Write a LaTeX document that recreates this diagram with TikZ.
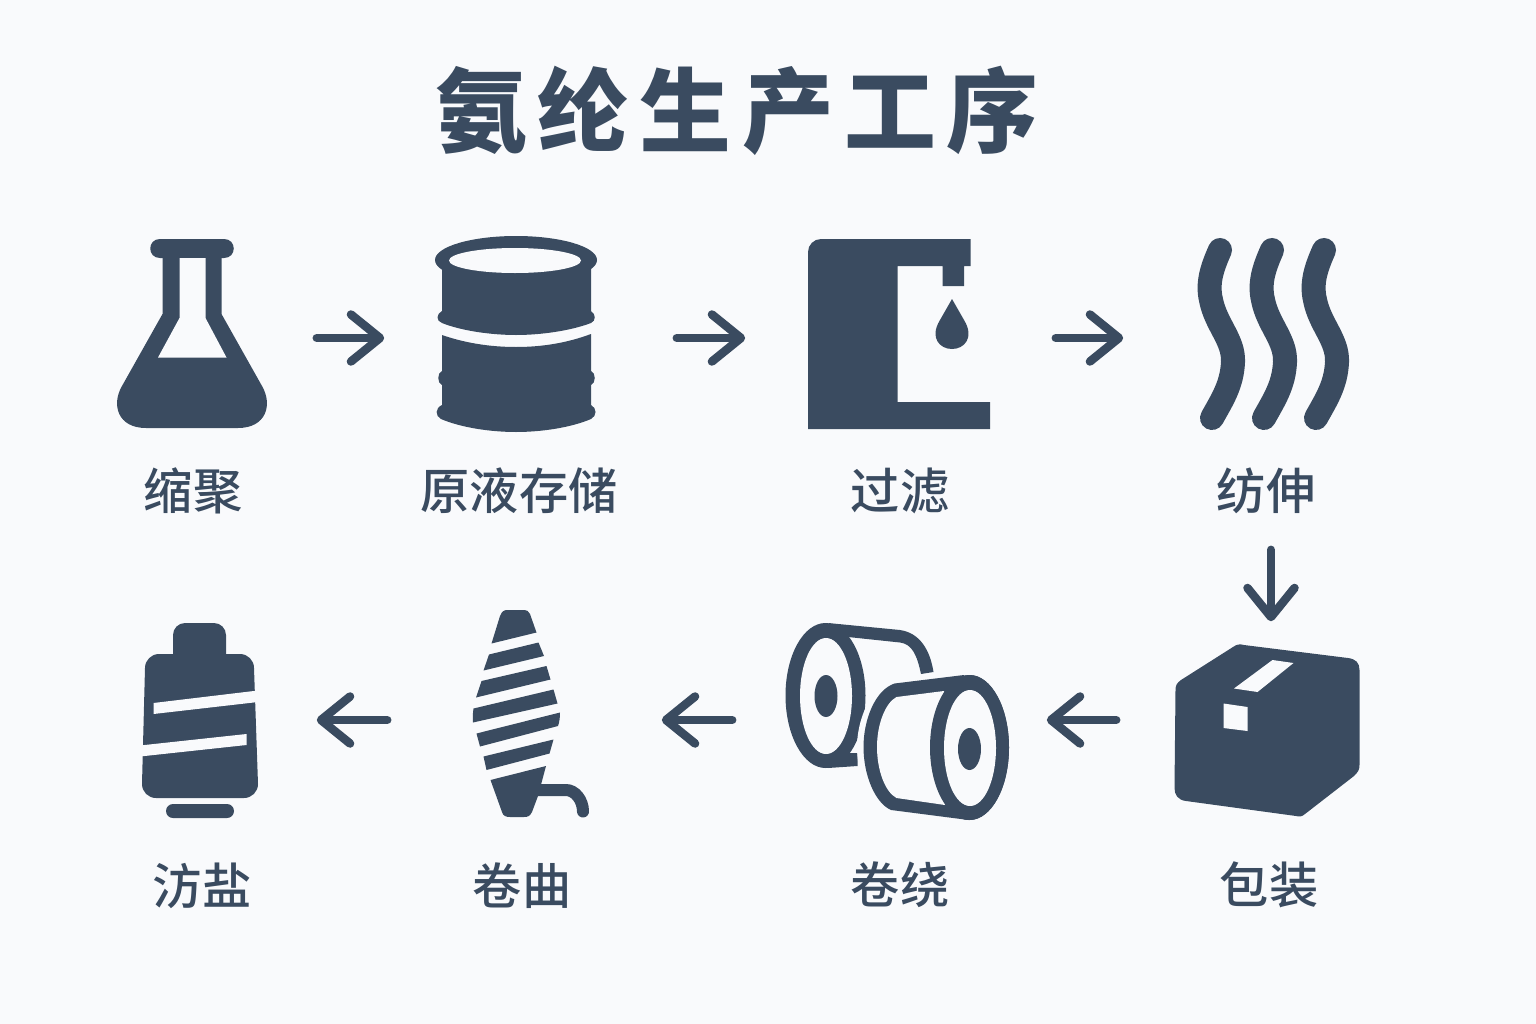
\documentclass[tikz,border=0pt]{standalone}
\usepackage{fontspec}
\usepackage{tikz}
\usetikzlibrary{arrows.meta}
\newfontfamily\cjk{Noto Sans CJK SC}
\newfontfamily\cjklabel{Noto Sans CJK SC Medium}
\definecolor{slate}{HTML}{3A4B60}
\definecolor{paper}{HTML}{F9FAFC}
\tikzset{
  iconframe/.style={inner sep=0pt,minimum width=#1,minimum height=1.9cm},
  stagelabel/.style={text=slate,font={\cjklabel\fontsize{14pt}{16pt}\selectfont},inner sep=0pt},
  flowarrow/.style={draw=slate,line width=0.085cm,line cap=round,
    -{Straight Barb[length=0.29cm,width=0.47cm,round]}},
  ink/.style={fill=slate,draw=none},
  hole/.style={fill=paper,draw=none},
  wave/.style={draw=slate,line width=0.24cm,line cap=round}
}
\begin{document}
\begin{tikzpicture}[x=0.01cm,y=-0.01cm]
\useasboundingbox (0,0) rectangle (1536,1024);
\fill[paper] (0,0) rectangle (1536,1024);

% title
\node[text=slate,inner sep=0pt,font={\cjk\bfseries\fontsize{26.1pt}{28pt}\selectfont}] (title) at (737,111)
  {氨\hspace{0.105cm}纶\hspace{0.105cm}生\hspace{0.105cm}产\hspace{0.105cm}工\hspace{0.105cm}序};

% frames of the icons
\node[iconframe=1.50cm] (flask) at (192,338) {};
\node[iconframe=1.60cm] (drum) at (516,338) {};
\node[iconframe=1.82cm] (filter) at (899,338) {};
\node[iconframe=1.50cm] (fibre) at (1271,338) {};
\node[iconframe=1.88cm] (carton) at (1271,720) {};
\node[iconframe=2.24cm] (rolls) at (897,720) {};
\node[iconframe=0.88cm] (bobbin) at (516,720) {};
\node[iconframe=1.16cm] (cone) at (200,720) {};

% flask
\fill[ink] (162.5,250) -- (162.5,314) -- (122,386) .. controls (111,405) and (118,428) .. (146,428)
  -- (238,428) .. controls (266,428) and (273,405) .. (262,386) -- (221.5,314) -- (221.5,250) -- cycle;
\fill[ink] (160,239) -- (224,239) .. controls (237,239) and (237,258) .. (224,258)
  -- (160,258) .. controls (147,258) and (147,239) .. (160,239) -- cycle;
\fill[hole] (179.5,258) -- (205.5,258) -- (205.5,318) -- (226.5,357.5) -- (158,357.5) -- (179.5,318) -- cycle;

% drum
\fill[ink] (442,260) -- (591,260) -- (591,311) .. controls (596,314) and (596,321) .. (591,323)
  .. controls (570,331) and (540,335) .. (516,335) .. controls (492,335) and (462,331) .. (442,323)
  .. controls (436,321) and (436,314) .. (442,311) -- cycle;
\fill[ink] (442,335) .. controls (465,343) and (490,347) .. (516,347) .. controls (542,347) and (567,343) .. (591,334)
  -- (591,371) .. controls (596,373) and (596,383) .. (591,385) -- (591,405)
  .. controls (597,408) and (597,416) .. (591,419) .. controls (570,428) and (540,432) .. (516,432)
  .. controls (492,432) and (462,428) .. (441,419) .. controls (435,416) and (435,408) .. (442,405)
  -- (442,385) .. controls (437,383) and (437,373) .. (442,371) -- cycle;
\fill[ink] (516,260) ellipse (81 and 24);
\fill[hole] (515,260.5) ellipse (66 and 12.5);

% filter
\fill[ink] (808,252) arc (180:270:13) -- (970.5,239) -- (970.5,266) -- (964,266) -- (964,286) -- (942.5,286)
  -- (942.5,266) -- (897.5,266) -- (897.5,402) -- (990,402) -- (990,429) -- (808,429) -- cycle;
\fill[ink] (952,299) -- (964,320) .. controls (975,338) and (964,349) .. (952,349)
  .. controls (940,349) and (929,338) .. (940,320) -- cycle;

% fibres
\foreach \dx in {0,52,104}{
  \draw[wave,shift={(\dx,0)}] (1220,250) .. controls (1212,268) and (1207,283) .. (1211,300)
    .. controls (1216,325) and (1234,340) .. (1233,362) .. controls (1232,385) and (1222,400) .. (1212,418);
}

% carton
\fill[ink] (1233,647) .. controls (1237,644) and (1240,644) .. (1244,645) -- (1348,658)
  .. controls (1356,659) and (1359.5,663) .. (1359.5,670) -- (1359.5,765) .. controls (1359.5,770) and (1358,772) .. (1354,776)
  -- (1305,814) .. controls (1302,816.5) and (1300,817) .. (1296,816) -- (1186,801)
  .. controls (1178,800) and (1174.5,795) .. (1174.5,788) -- (1175.5,690) .. controls (1175.5,685) and (1177,683) .. (1181,680) -- cycle;
\fill[hole] (1272.5,660) -- (1293.5,663) -- (1257.5,692) -- (1234,688.5) -- cycle;
\fill[hole] (1223.5,703.5) -- (1247.5,707) -- (1247.5,731) -- (1223.5,728) -- cycle;

% rolls, the back one
\fill[ink] (828,623) -- (900,630) .. controls (920,633) and (930,650) .. (933.5,672) -- (921,674)
  .. controls (917,655) and (912,644) .. (900,642.5) -- (848,637) -- cycle;
\fill[ink] (828,768) -- (857.5,766) -- (857.5,753) -- (826,753) -- cycle;
\fill[ink] (825.5,695.5) ellipse (40 and 72.5);
\fill[hole] (826,696) ellipse (26 and 58);
\fill[ink] (826,696) ellipse (11.5 and 21);
% the front one
\fill[hole] (964,670) -- (890,678) .. controls (870,690) and (857,720) .. (857,747)
  .. controls (857,775) and (870,805) .. (885,813) -- (968,826) -- cycle;
\fill[ink] (964,675) -- (894.5,683.5) .. controls (875,690) and (863.5,720) .. (863.5,747)
  .. controls (863.5,775) and (875,803) .. (891,810) -- (968.5,820) -- cycle;
\fill[ink] (969.5,747.5) ellipse (39.5 and 72.5);
\fill[hole] (944,691) -- (896.5,697) .. controls (885,703) and (877,725) .. (877,747)
  .. controls (877,770) and (885,792) .. (896.5,798) -- (945,805) -- (970,748) -- cycle;
\fill[ink] (969.5,747.5) ellipse (39.5 and 72.5);
\fill[hole] (970,748) ellipse (26 and 58);
\fill[ink] (969.5,749) ellipse (11.5 and 21);

% bobbin
\fill[ink] (491.5,643.5) -- (500,616) .. controls (502,611) and (504,610) .. (508,610) -- (522,610)
  .. controls (527,610) and (529,611) .. (530,614) -- (536.5,632.5) -- cycle;
\fill[ink] (483.5,670.5) -- (489,654.5) -- (538.5,642.5) -- (544,656) -- cycle;
\fill[ink] (476,697.5) -- (481.5,681) -- (546.5,666) -- (550.5,679.5) -- cycle;
\fill[ink] (473,722.5) .. controls (472.5,717) and (473,712) .. (473.5,708.5) -- (553.5,689.5) -- (557.5,703.5) -- cycle;
\fill[ink] (480,746.5) -- (476.5,733.5) -- (560,712.5) .. controls (560,717) and (559.5,722) .. (558,726) -- cycle;
\fill[ink] (486.5,770) -- (483.5,756.5) -- (553.5,739.5) -- (549.5,753.5) -- cycle;
\fill[ink] (490.5,780) -- (546,766) -- (538,796) -- (532,812) .. controls (530,816) and (528,817) .. (524,817)
  -- (510,817) .. controls (506,817) and (503,816) .. (502,812) -- cycle;
\draw[slate,line width=0.12cm,line cap=round] (536,790) -- (566,790) .. controls (575,790) and (583,800) .. (583,811.5);

% cone
\fill[ink] (173,654) -- (173,635) arc (180:270:12) -- (214,623) arc (-90:0:12) -- (226,654) -- (240,654)
  arc (-90:0:14) -- (258,784) arc (0:90:14) -- (156,798) arc (90:180:14) -- (145,668) arc (180:270:14) -- cycle;
\fill[hole] (258,690.5) -- (153.5,703) -- (153.5,714) -- (258,702) -- cycle;
\fill[hole] (140,745.5) -- (246.5,734) -- (246.5,745) -- (140,756.5) -- cycle;
\fill[ink] (173,804) -- (227,804) arc (-90:90:7) -- (173,818) arc (90:270:7) -- cycle;

% stages
\node[stagelabel] (flasklabel) at (193,491) {缩聚};
\node[stagelabel] (drumlabel) at (519,491) {原液存储};
\node[stagelabel] (filterlabel) at (900,491) {过滤};
\node[stagelabel] (fibrelabel) at (1266,491) {纺伸};
\node[stagelabel] (cartonlabel) at (1269,885) {包装};
\node[stagelabel] (rollslabel) at (900,885) {卷绕};
\node[stagelabel] (bobbinlabel) at (522,886) {卷曲};
\node[stagelabel] (conelabel) at (202,886) {汸盐};

% flow
\draw[flowarrow,shorten <=0.49cm,shorten >=0.51cm] (flask) -- (drum);
\draw[flowarrow,shorten <=0.80cm,shorten >=0.62cm] (drum) -- (filter);
\draw[flowarrow,shorten <=0.65cm,shorten >=0.72cm] (filter) -- (fibre);
\draw[flowarrow,shorten <=1.16cm,shorten >=0.03cm] (fibre) -- (carton);
\draw[flowarrow,shorten <=0.60cm,shorten >=0.37cm] (carton) -- (rolls);
\draw[flowarrow,shorten <=0.52cm,shorten >=1.01cm] (rolls) -- (bobbin);
\draw[flowarrow,shorten <=0.84cm,shorten >=0.58cm] (bobbin) -- (cone);

\end{tikzpicture}
\end{document}
